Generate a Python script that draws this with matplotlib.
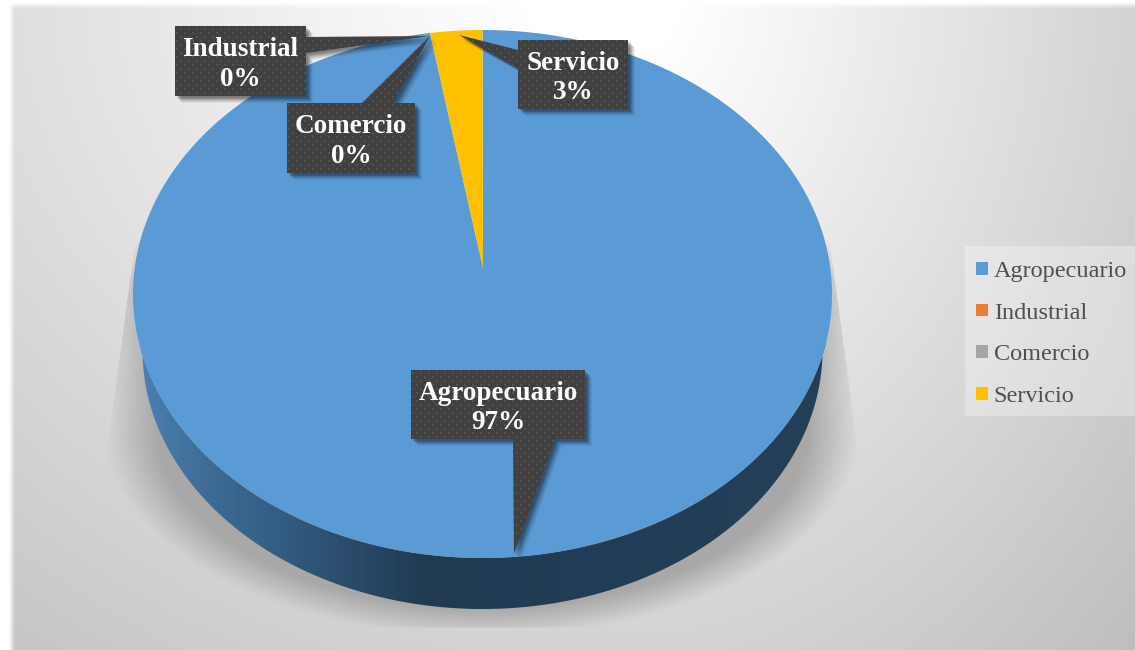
import numpy as np
import matplotlib
matplotlib.use("Agg")
import matplotlib.pyplot as plt
from matplotlib.patches import Polygon, Rectangle
from matplotlib.colors import LinearSegmentedColormap

categories = ["Agropecuario", "Industrial", "Comercio", "Servicio"]
values = [97.6, 0, 0, 2.4]
percent_labels = ["97%", "0%", "0%", "3%"]
colors = ["#5B9BD5", "#ED7D31", "#A5A5A5", "#FFC000"]

W, H = 1135, 650
plt.rcParams["font.family"] = ["Liberation Serif", "DejaVu Serif"]
fig = plt.figure(figsize=(W / 100, H / 100), dpi=100, facecolor="white")
ax = fig.add_axes([0, 0, 1, 1])
ax.axis("off")

yy, xx = np.mgrid[0:H, 0:W]
yy = yy + 0.5
xx = xx + 0.5

# background: soft radial gradient, white near the top, fading to grey
dx = np.where(xx > 620, (xx - 620) / 650.0, (xx - 620) / 1000.0)
dy = (yy + 20) / 850.0
r = np.sqrt(dx ** 2 + dy ** 2)
grey = np.clip(1.0 - 0.25 * np.clip(r - 0.1, 0, None), 0, 1)
bg = np.dstack([grey, grey, grey])
edge = (np.clip((xx - 9) / 6.0, 0, 1) * np.clip((yy - 2.5) / 6.0, 0, 1))[..., None]
bg = bg * edge + (1 - edge)
ax.imshow(bg, extent=(0, W, H, 0), aspect="auto", zorder=0, interpolation="nearest")

# soft floor shadow: a rounded shape cut by two slanted lines and a flat floor
cx = 482.5
dy_s = np.clip(yy - 430, 0, None) / 207.0
d = np.sqrt(((xx - cx) / 378.0) ** 2 + dy_s ** 2)
a = np.clip((1.0 - d) / 0.14, 0, 1)
side_limit = 349.5 + (yy - 255) * 25.0 / 185.0
a = a * np.clip(side_limit - np.abs(xx - cx), 0, 1) * (yy > 240)
a = a * np.clip((yy - 240) / 50.0, 0, 1)
a = a * np.clip(628 - yy, 0, 1)
shadow = np.zeros((H, W, 4))
shadow[..., :3] = 0.66
shadow[..., 3] = a
ax.imshow(shadow, extent=(0, W, H, 0), aspect="auto", zorder=1, interpolation="nearest")

# pie geometry (pixel space of the full-figure axes)
rx_top, ry_top, cy_top = 349.5, 264.0, 294.0
rx_bot, ry_bot, cy_bot = 340.0, 259.0, 350.0
apex = (483, 268)

def rim(theta):
    return cx + rx_top * np.sin(theta), cy_top - ry_top * np.cos(theta)

# side wall
t = np.linspace(np.pi / 2, 3 * np.pi / 2, 240)
top_x, top_y = cx + rx_top * np.sin(t), cy_top - ry_top * np.cos(t)
bot_x, bot_y = cx + rx_bot * np.sin(t), cy_bot - ry_bot * np.cos(t)
wall = Polygon(np.r_[np.c_[top_x, top_y], np.c_[bot_x, bot_y][::-1]], closed=True,
               fc="none", ec="none", zorder=2)
ax.add_patch(wall)
wall_cmap = LinearSegmentedColormap.from_list(
    "wall", [(0, "#4A80B0"), (0.087, "#3F6E98"), (0.204, "#335C82"), (0.29, "#2B4E6E"),
             (0.42, "#203A52"), (1, "#244059")])
im = ax.imshow(np.linspace(0, 1, 256)[None, :], extent=(140, 826, 650, 290), cmap=wall_cmap,
               aspect="auto", zorder=2)
im.set_clip_path(wall)

# top-face slices, clockwise from 12 o'clock
shares = np.array(values, dtype=float) / np.sum(values)
edges = np.r_[0, np.cumsum(shares)] * 2 * np.pi
for s, e, c in zip(edges[:-1], edges[1:], colors):
    th = np.linspace(s, e, max(3, int((e - s) * 120)))
    px, py = rim(th)
    ax.add_patch(Polygon(np.c_[np.r_[apex[0], px], np.r_[apex[1], py]], closed=True,
                         fc=c, ec="none", zorder=3))

# dotted texture of the callouts
dots = np.zeros((H, W, 4))
dots[..., :3] = 0x5E / 255
row = (yy.astype(int) // 4)
on = ((xx.astype(int) + 4 * (row % 2)) % 8 < 2) & (yy.astype(int) % 4 < 2)
dots[..., 3] = on * 0.6

# data-label callouts: box (l, t, r, b) and pointer
boxes = [(411, 370, 585, 439), (175, 26, 306, 96), (287, 103, 415, 173), (518, 40, 628, 109)]
pointers = [[(513, 439), (555, 439), (514, 554)],
            [(306, 37), (430, 36), (306, 53)],
            [(362, 103), (430, 36), (393, 103)],
            [(518, 50), (459, 35), (518, 68)]]
for name, pct, box, ptr in zip(categories, percent_labels, boxes, pointers):
    l, t_, r_, b = box
    pts = np.array(ptr, dtype=float)
    for ox, oy, al in [(7, 7, 0.05), (6, 6, 0.07), (5, 5, 0.09), (4, 4, 0.11), (3, 3, 0.13), (2, 2, 0.13)]:
        ax.add_patch(Rectangle((l + ox, t_ + oy), r_ - l, b - t_, fc="black", ec="none",
                               alpha=al, zorder=4))
        ax.add_patch(Polygon(pts + [ox, oy], closed=True, fc="black", ec="none", alpha=al, zorder=4))
    for patch in (Rectangle((l, t_), r_ - l, b - t_), Polygon(pts, closed=True)):
        patch.set(fc="#404040", ec="none", zorder=5)
        ax.add_patch(patch)
        tex = ax.imshow(dots, extent=(0, W, H, 0), aspect="auto", zorder=5.1, interpolation="nearest")
        tex.set_clip_path(patch)
    ax.text((l + r_) / 2, (t_ + b) / 2 + 3.5, f"{name}\n{pct}", color="white", weight="bold",
            fontsize=19.5, ha="center", va="center", linespacing=1.22, zorder=6)

# legend
ax.add_patch(Rectangle((965, 246), 170, 170, fc="white", ec="none", alpha=0.3, zorder=7))
handles = [Rectangle((0, 0), 1, 1, fc=c, ec="none") for c in colors]
leg = ax.legend(handles, categories, loc="upper left", bbox_to_anchor=(961.4 / W, 1 - 246 / H),
                bbox_transform=ax.transAxes, frameon=False, fontsize=17.5, labelcolor="#505050",
                handlelength=0.49, handleheight=0.41, handletextpad=0.22, labelspacing=0.85,
                borderaxespad=0, borderpad=0.62)
leg.set_zorder(8)

ax.set_xlim(0, W)
ax.set_ylim(H, 0)
fig.savefig("out.png", dpi=100)
